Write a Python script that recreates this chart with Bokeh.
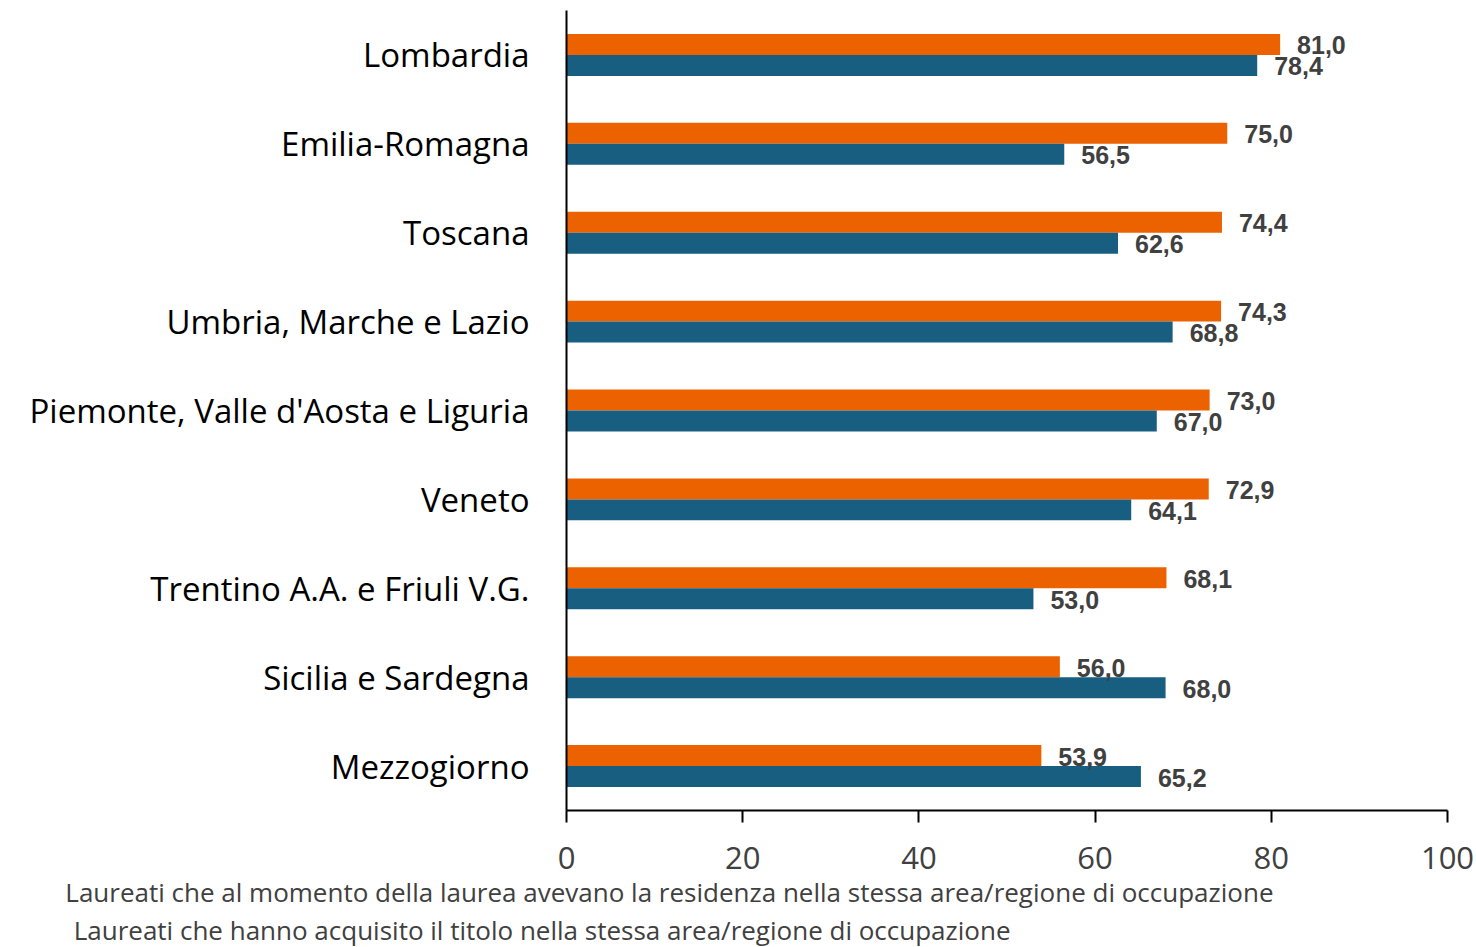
from bokeh.plotting import figure
from bokeh.models import FactorRange, ColumnDataSource, Title, FixedTicker
from bokeh.transform import dodge
from bokeh.embed import file_html
from bokeh.resources import INLINE
from bokeh.core.properties import value

regions = ["Lombardia", "Emilia-Romagna", "Toscana", "Umbria, Marche e Lazio",
           "Piemonte, Valle d'Aosta e Liguria", "Veneto", "Trentino A.A. e Friuli V.G.",
           "Sicilia e Sardegna", "Mezzogiorno"]
residenza = [81.0, 75.0, 74.4, 74.3, 73.0, 72.9, 68.1, 56.0, 53.9]
titolo = [78.4, 56.5, 62.6, 68.8, 67.0, 64.1, 53.0, 68.0, 65.2]
legend_labels = [
    "Laureati che al momento della laurea avevano la residenza nella stessa area/regione di occupazione",
    "Laureati che hanno acquisito il titolo nella stessa area/regione di occupazione",
]
x_ticks = [0, 20, 40, 60, 80, 100]

ORANGE = "#EC6200"
BLUE = "#175E80"
LABEL_GRAY = "#404040"

def fmt(v):
    return f"{v:.1f}".replace(".", ",")

src = ColumnDataSource(dict(
    region=regions,
    res=residenza,
    tit=titolo,
    res_lbl=[fmt(v) for v in residenza],
    tit_lbl=[fmt(v) for v in titolo],
))

p = figure(
    width=1476, height=947,
    y_range=FactorRange(factors=regions[::-1], range_padding=0),
    x_range=(0, 100),
    output_backend="svg", toolbar_location=None,
    min_border_left=566, min_border_right=29, min_border_top=10, min_border_bottom=137,
)
p.outline_line_color = None
p.grid.visible = False
p.background_fill_color = "white"
p.border_fill_color = "white"

bh = 0.236
off = 0.118
p.hbar(y=dodge("region", off, range=p.y_range), right="res", left=0, height=bh,
       color=ORANGE, line_color=None, source=src)
p.hbar(y=dodge("region", -off, range=p.y_range), right="tit", left=0, height=bh,
       color=BLUE, line_color=None, source=src)

common = dict(text_font=value("Liberation Sans"), text_font_style="bold",
              text_font_size="25px", text_color=LABEL_GRAY,
              text_baseline="middle", text_align="left", x_offset=17)
p.text(x="res", y=dodge("region", off, range=p.y_range), text="res_lbl",
       source=src, y_offset=1, **common)
p.text(x="tit", y=dodge("region", -off, range=p.y_range), text="tit_lbl",
       source=src, y_offset=1, **common)

# axes
p.yaxis.major_tick_line_color = None
p.yaxis.minor_tick_line_color = None
p.yaxis.axis_line_color = "black"
p.yaxis.axis_line_width = 2
p.yaxis.major_label_text_font = "Open Sans"
p.yaxis.major_label_text_font_size = "33px"
p.yaxis.major_label_text_color = "black"
p.yaxis.major_label_standoff = 31

p.xaxis.ticker = FixedTicker(ticks=x_ticks)
p.xaxis.minor_tick_line_color = None
p.xaxis.axis_line_color = "black"
p.xaxis.axis_line_width = 2
p.xaxis.major_tick_line_color = "black"
p.xaxis.major_tick_line_width = 2
p.xaxis.major_tick_in = 0
p.xaxis.major_tick_out = 12
p.xaxis.major_label_text_font = "Open Sans"
p.xaxis.major_label_text_font_size = "31px"
p.xaxis.major_label_text_color = LABEL_GRAY
p.xaxis.major_label_standoff = 24

# legend texts
leg = dict(text_font="Open Sans", text_font_size="26px", text_color=LABEL_GRAY,
           text_font_style="normal", align="right", standoff=0)
p.add_layout(Title(text=legend_labels[0], offset=174, **leg), "below")
p.add_layout(Title(text=legend_labels[1], offset=437, **leg), "below")

open("out.html", "w").write(file_html(p, INLINE))
